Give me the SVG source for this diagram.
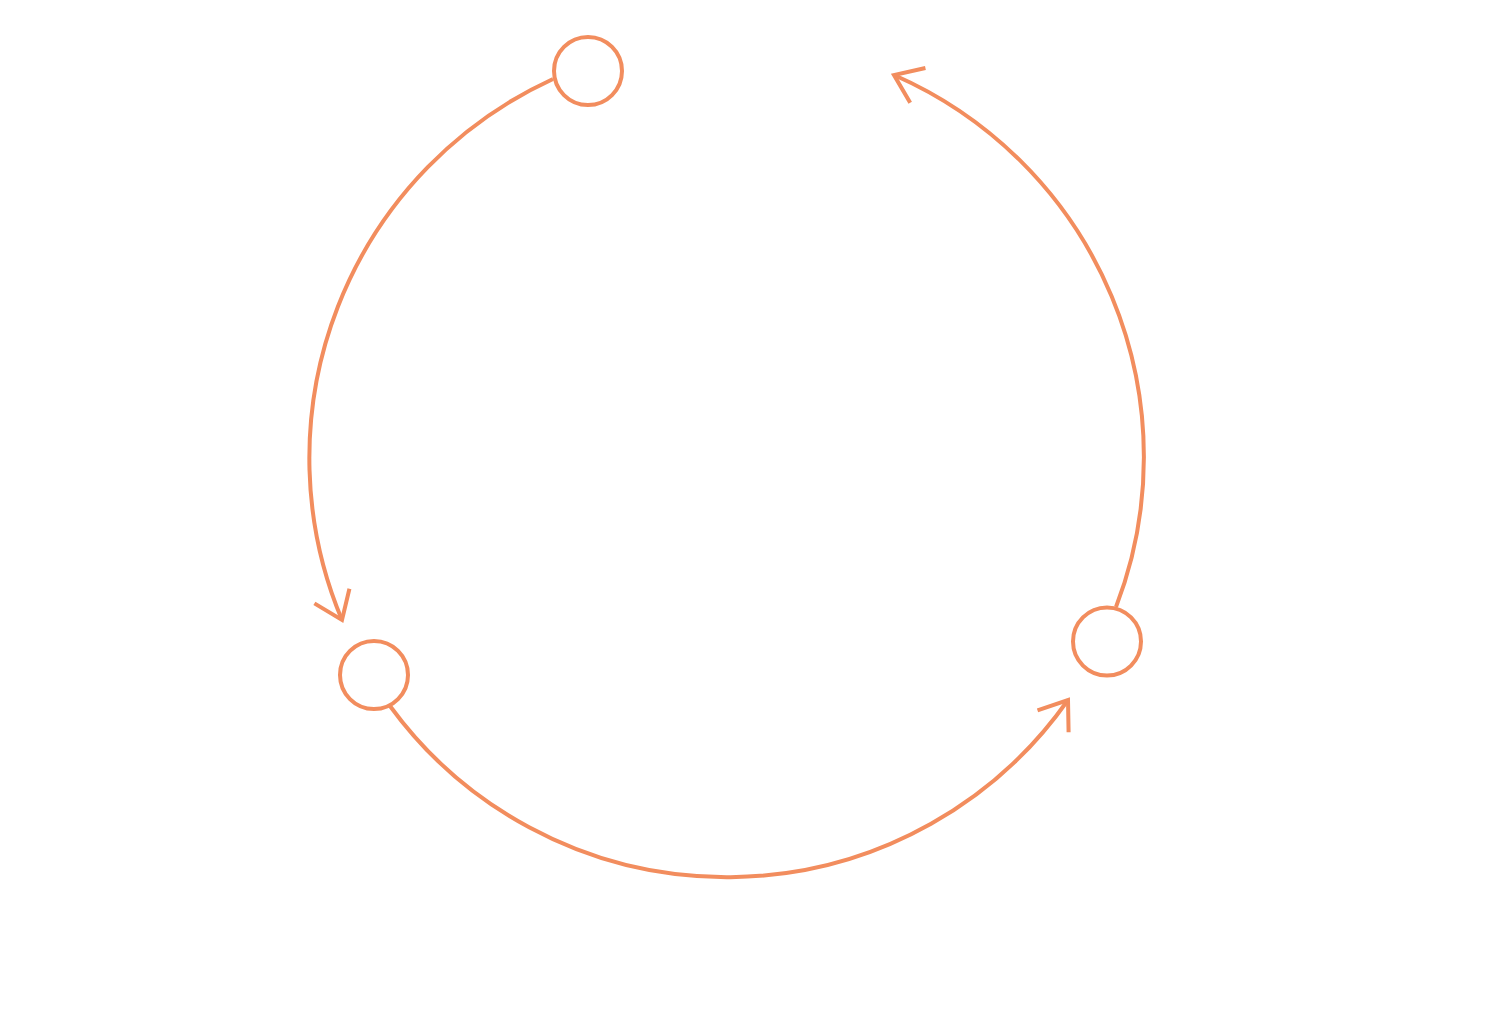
<svg xmlns="http://www.w3.org/2000/svg" width="1495" height="1029" viewBox="0 0 1495 1029">
<style>
.n{fill:#fff;stroke:#F28D5E;stroke-width:4}
.e{fill:none;stroke:#F28D5E;stroke-width:4}
</style>
<defs>
<marker id="ah" markerUnits="userSpaceOnUse" orient="auto" refX="0" refY="0" markerWidth="60" markerHeight="60" viewBox="-40 -30 50 60" overflow="visible">
<path d="M-26,-19 L0,0 L-26,19" fill="none" stroke="#F28D5E" stroke-width="4" stroke-linecap="butt"/>
</marker>
</defs>
<rect width="1495" height="1029" fill="#fff"/>
<g id="connectors">
<path class="e" d="M553,79 A417,417 0 0 0 342,620" marker-end="url(#ah)"/>
<path class="e" d="M390,706 A417,417 0 0 0 1068,700" marker-end="url(#ah)"/>
<path class="e" d="M1116,607 A417,417 0 0 0 894,75" marker-end="url(#ah)"/>
</g>
<g id="node-top"><circle class="n" cx="588" cy="71" r="34"/></g>
<g id="node-left"><circle class="n" cx="374" cy="675" r="34"/></g>
<g id="node-right"><circle class="n" cx="1107" cy="641.5" r="34"/></g>
</svg>
